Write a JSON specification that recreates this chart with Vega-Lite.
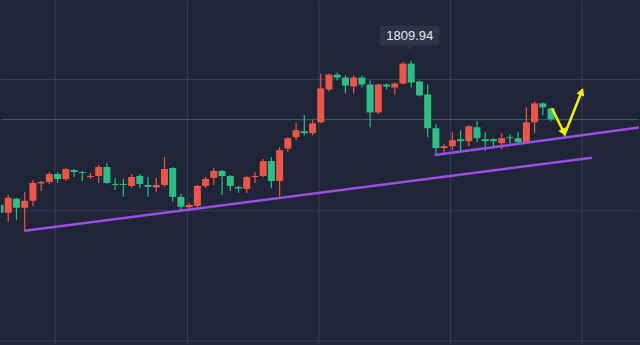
{
  "$schema": "https://vega.github.io/schema/vega-lite/v6.json",
  "width": 640,
  "height": 345,
  "autosize": {"type": "fit", "contains": "padding"},
  "padding": 0,
  "background": "#1f2537",
  "config": {"view": {"stroke": null}},
  "datasets": {
    "candles": [
      {"i": 0, "open": 1773.69, "high": 1774.94, "low": 1770.94, "close": 1771.69},
      {"i": 1, "open": 1771.69, "high": 1776.19, "low": 1769.44, "close": 1775.44},
      {"i": 2, "open": 1775.19, "high": 1775.44, "low": 1769.94, "close": 1772.94},
      {"i": 3, "open": 1772.94, "high": 1776.94, "low": 1766.94, "close": 1774.69},
      {"i": 4, "open": 1774.69, "high": 1779.94, "low": 1773.44, "close": 1779.19},
      {"i": 5, "open": 1779.07, "high": 1779.69, "low": 1777.19, "close": 1779.44},
      {"i": 6, "open": 1779.44, "high": 1781.94, "low": 1778.94, "close": 1781.44},
      {"i": 7, "open": 1781.44, "high": 1781.94, "low": 1779.19, "close": 1780.19},
      {"i": 8, "open": 1780.19, "high": 1782.94, "low": 1779.69, "close": 1782.69},
      {"i": 9, "open": 1782.44, "high": 1782.69, "low": 1780.69, "close": 1781.94},
      {"i": 10, "open": 1781.94, "high": 1782.19, "low": 1779.69, "close": 1781.69},
      {"i": 11, "open": 1780.69, "high": 1781.69, "low": 1780.19, "close": 1780.94},
      {"i": 12, "open": 1780.94, "high": 1783.69, "low": 1779.19, "close": 1783.19},
      {"i": 13, "open": 1783.19, "high": 1784.19, "low": 1778.94, "close": 1779.19},
      {"i": 14, "open": 1778.94, "high": 1780.44, "low": 1777.44, "close": 1778.69},
      {"i": 15, "open": 1778.94, "high": 1780.19, "low": 1775.69, "close": 1778.69},
      {"i": 16, "open": 1778.44, "high": 1781.44, "low": 1777.94, "close": 1780.69},
      {"i": 17, "open": 1780.94, "high": 1781.44, "low": 1777.94, "close": 1778.94},
      {"i": 18, "open": 1778.69, "high": 1780.69, "low": 1775.69, "close": 1778.19},
      {"i": 19, "open": 1778.07, "high": 1780.44, "low": 1776.94, "close": 1778.69},
      {"i": 20, "open": 1778.69, "high": 1785.69, "low": 1778.19, "close": 1782.69},
      {"i": 21, "open": 1782.94, "high": 1783.19, "low": 1774.44, "close": 1775.69},
      {"i": 22, "open": 1775.69, "high": 1776.44, "low": 1772.19, "close": 1773.19},
      {"i": 23, "open": 1773.07, "high": 1774.19, "low": 1772.44, "close": 1773.69},
      {"i": 24, "open": 1773.44, "high": 1778.69, "low": 1772.94, "close": 1778.44},
      {"i": 25, "open": 1778.44, "high": 1780.69, "low": 1777.94, "close": 1780.19},
      {"i": 26, "open": 1780.44, "high": 1782.94, "low": 1778.69, "close": 1782.19},
      {"i": 27, "open": 1782.19, "high": 1782.44, "low": 1776.19, "close": 1780.94},
      {"i": 28, "open": 1780.94, "high": 1781.19, "low": 1777.19, "close": 1778.44},
      {"i": 29, "open": 1778.19, "high": 1778.44, "low": 1776.69, "close": 1777.82},
      {"i": 30, "open": 1777.69, "high": 1780.94, "low": 1776.69, "close": 1780.69},
      {"i": 31, "open": 1780.69, "high": 1781.94, "low": 1779.19, "close": 1780.94},
      {"i": 32, "open": 1780.94, "high": 1785.19, "low": 1780.69, "close": 1784.69},
      {"i": 33, "open": 1784.69, "high": 1785.69, "low": 1777.94, "close": 1779.69},
      {"i": 34, "open": 1779.69, "high": 1788.19, "low": 1775.69, "close": 1787.44},
      {"i": 35, "open": 1787.82, "high": 1790.69, "low": 1786.94, "close": 1790.44},
      {"i": 36, "open": 1790.69, "high": 1794.19, "low": 1789.94, "close": 1792.44},
      {"i": 37, "open": 1792.19, "high": 1796.19, "low": 1791.19, "close": 1791.69},
      {"i": 38, "open": 1791.69, "high": 1794.94, "low": 1791.19, "close": 1794.19},
      {"i": 39, "open": 1794.44, "high": 1806.69, "low": 1794.19, "close": 1802.94},
      {"i": 40, "open": 1802.69, "high": 1806.69, "low": 1802.19, "close": 1806.44},
      {"i": 41, "open": 1806.44, "high": 1806.94, "low": 1804.94, "close": 1805.69},
      {"i": 42, "open": 1805.69, "high": 1806.19, "low": 1801.69, "close": 1803.69},
      {"i": 43, "open": 1803.44, "high": 1806.19, "low": 1801.69, "close": 1805.69},
      {"i": 44, "open": 1805.69, "high": 1806.19, "low": 1803.19, "close": 1803.94},
      {"i": 45, "open": 1803.94, "high": 1804.94, "low": 1793.19, "close": 1796.94},
      {"i": 46, "open": 1796.94, "high": 1804.19, "low": 1796.44, "close": 1803.94},
      {"i": 47, "open": 1803.94, "high": 1804.19, "low": 1802.69, "close": 1803.44},
      {"i": 48, "open": 1803.19, "high": 1804.44, "low": 1801.44, "close": 1804.19},
      {"i": 49, "open": 1804.19, "high": 1809.52, "low": 1803.94, "close": 1809.19},
      {"i": 50, "open": 1809.19, "high": 1809.94, "low": 1803.19, "close": 1804.44},
      {"i": 51, "open": 1804.69, "high": 1804.94, "low": 1800.94, "close": 1801.19},
      {"i": 52, "open": 1801.44, "high": 1803.94, "low": 1790.69, "close": 1792.94},
      {"i": 53, "open": 1792.94, "high": 1793.94, "low": 1786.19, "close": 1787.94},
      {"i": 54, "open": 1787.94, "high": 1788.94, "low": 1786.69, "close": 1788.44},
      {"i": 55, "open": 1788.44, "high": 1791.94, "low": 1787.44, "close": 1789.94},
      {"i": 56, "open": 1790.19, "high": 1792.44, "low": 1787.19, "close": 1789.69},
      {"i": 57, "open": 1789.69, "high": 1793.69, "low": 1788.44, "close": 1793.44},
      {"i": 58, "open": 1793.19, "high": 1794.69, "low": 1789.44, "close": 1790.44},
      {"i": 59, "open": 1790.19, "high": 1791.94, "low": 1787.19, "close": 1789.69},
      {"i": 60, "open": 1790.19, "high": 1790.44, "low": 1787.94, "close": 1789.69},
      {"i": 61, "open": 1789.19, "high": 1791.69, "low": 1787.69, "close": 1790.44},
      {"i": 62, "open": 1790.69, "high": 1791.44, "low": 1788.44, "close": 1790.44},
      {"i": 63, "open": 1790.44, "high": 1791.94, "low": 1789.19, "close": 1789.44},
      {"i": 64, "open": 1789.44, "high": 1798.19, "low": 1789.19, "close": 1794.44},
      {"i": 65, "open": 1794.44, "high": 1799.69, "low": 1791.69, "close": 1799.19},
      {"i": 66, "open": 1799.19, "high": 1799.44, "low": 1796.19, "close": 1798.19},
      {"i": 67, "open": 1797.94, "high": 1798.19, "low": 1794.69, "close": 1795.19}
    ],
    "vgrid": [{"i": 6.703}, {"i": 22.788}, {"i": 38.788}, {"i": 54.788}, {"i": 70.751}],
    "hgrid": [{"p": 1805.19}, {"p": 1772.19}, {"p": 1739.44}],
    "priceline": [{"p": 1795.115}],
    "trend": [
      {"seg": "lower", "i": 3.03, "p": 1767.19},
      {"seg": "lower", "i": 71.964, "p": 1785.515},
      {"seg": "upper", "i": 52.848, "p": 1786.19},
      {"seg": "upper", "i": 77.697, "p": 1793.115}
    ],
    "arrow": [
      {"i": 67.115, "p": 1797.94},
      {"i": 68.667, "p": 1791.44},
      {"i": 70.824, "p": 1802.69}
    ],
    "headDown": [{"i": 68.479, "p": 1792.215}],
    "headUp": [{"i": 70.667, "p": 1801.865}],
    "label": [{"i0": 46.18, "i1": 53.45, "p0": 1818.69, "p1": 1813.69, "i": 49.82, "p": 1816.07, "ptr": 1813.19, "text": "1809.94"}]
  },
  "layer": [
    {
      "data": {"name": "vgrid"},
      "mark": {"type": "rule", "color": "#383f53", "strokeWidth": 1},
      "encoding": {
        "x": {"field": "i", "type": "quantitative", "axis": null, "scale": {"domain": [0.1212, 77.697], "nice": false, "zero": false, "padding": 0}}
      }
    },
    {
      "data": {"name": "hgrid"},
      "mark": {"type": "rule", "color": "#383f53", "strokeWidth": 1},
      "encoding": {
        "y": {"field": "p", "type": "quantitative", "axis": null, "scale": {"domain": [1738.69, 1824.94], "nice": false, "zero": false, "padding": 0}}
      }
    },
    {
      "data": {"name": "priceline"},
      "mark": {"type": "rule", "color": "#3b6060", "strokeWidth": 1},
      "encoding": {
        "y": {"field": "p", "type": "quantitative", "axis": null}
      }
    },
    {
      "data": {"name": "candles"},
      "mark": {"type": "rule", "strokeWidth": 1.2, "clip": true},
      "encoding": {
        "x": {"field": "i", "type": "quantitative", "axis": null},
        "y": {"field": "low", "type": "quantitative", "axis": null},
        "y2": {"field": "high"},
        "color": {"condition": {"test": "datum.close >= datum.open", "value": "#eb5648"}, "value": "#2ebd85"}
      }
    },
    {
      "data": {"name": "candles"},
      "mark": {"type": "bar", "size": 7, "clip": true},
      "encoding": {
        "x": {"field": "i", "type": "quantitative", "axis": null},
        "y": {"field": "open", "type": "quantitative", "axis": null},
        "y2": {"field": "close"},
        "color": {"condition": {"test": "datum.close >= datum.open", "value": "#eb5648"}, "value": "#2ebd85"}
      }
    },
    {
      "data": {"name": "trend"},
      "mark": {"type": "line", "color": "#9a4fe3", "strokeWidth": 2.5, "clip": true},
      "encoding": {
        "x": {"field": "i", "type": "quantitative", "axis": null},
        "y": {"field": "p", "type": "quantitative", "axis": null},
        "detail": {"field": "seg"}
      }
    },
    {
      "data": {"name": "arrow"},
      "mark": {"type": "line", "color": "#f4ee12", "strokeWidth": 2.5},
      "encoding": {
        "x": {"field": "i", "type": "quantitative", "axis": null},
        "y": {"field": "p", "type": "quantitative", "axis": null}
      }
    },
    {
      "data": {"name": "headDown"},
      "mark": {"type": "point", "shape": "triangle", "filled": true, "color": "#f4ee12", "opacity": 1, "size": 70, "angle": 154},
      "encoding": {
        "x": {"field": "i", "type": "quantitative", "axis": null},
        "y": {"field": "p", "type": "quantitative", "axis": null}
      }
    },
    {
      "data": {"name": "headUp"},
      "mark": {"type": "point", "shape": "triangle", "filled": true, "color": "#f4ee12", "opacity": 1, "size": 70, "angle": 22},
      "encoding": {
        "x": {"field": "i", "type": "quantitative", "axis": null},
        "y": {"field": "p", "type": "quantitative", "axis": null}
      }
    },
    {
      "data": {"name": "label"},
      "mark": {"type": "rect", "color": "#2c3447", "cornerRadius": 3},
      "encoding": {
        "x": {"field": "i0", "type": "quantitative", "axis": null},
        "x2": {"field": "i1"},
        "y": {"field": "p0", "type": "quantitative", "axis": null},
        "y2": {"field": "p1"}
      }
    },
    {
      "data": {"name": "label"},
      "mark": {"type": "point", "shape": "triangle-down", "filled": true, "color": "#2c3447", "opacity": 1, "size": 40},
      "encoding": {
        "x": {"field": "i", "type": "quantitative", "axis": null},
        "y": {"field": "ptr", "type": "quantitative", "axis": null}
      }
    },
    {
      "data": {"name": "label"},
      "mark": {"type": "text", "color": "#e3e7ee", "fontSize": 13, "font": "Liberation Sans", "align": "center", "baseline": "middle"},
      "encoding": {
        "x": {"field": "i", "type": "quantitative", "axis": null},
        "y": {"field": "p", "type": "quantitative", "axis": null},
        "text": {"field": "text"}
      }
    }
  ]
}
